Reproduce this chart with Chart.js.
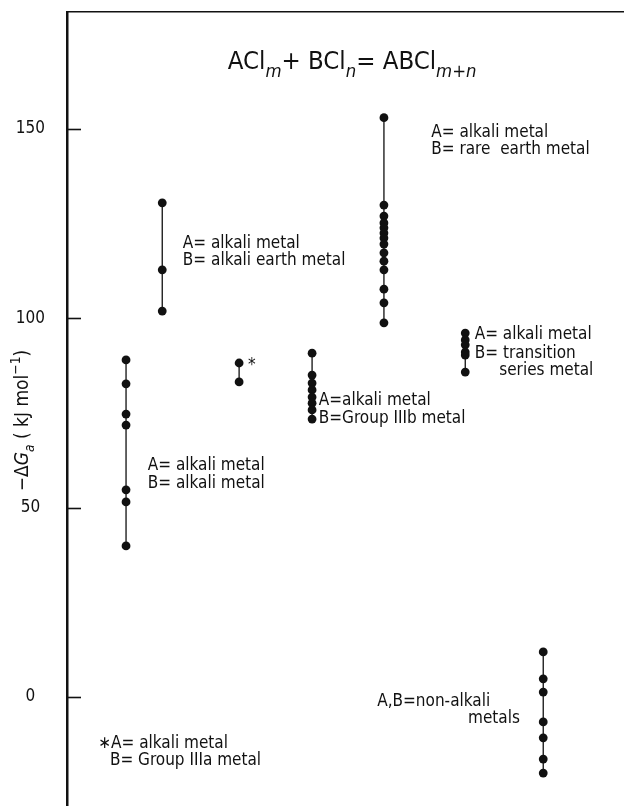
<!DOCTYPE html>
<html>
<head>
<meta charset="utf-8">
<title>ACl(m) + BCl(n) = ABCl(m+n)</title>
<script src="https://cdn.jsdelivr.net/npm/chart.js"></script>
<style>
  body { margin: 0; background: #fff; }
  .wrap { position: relative; width: 624px; height: 806px; }
</style>
</head>
<body>
<div class="wrap"><canvas id="dgChart"></canvas></div>
<script>
// one vertical column of points per kind of compound
const groups = ['A,B alkali', 'B alkali earth', 'B Group IIIa', 'B Group IIIb', 'B rare earth', 'B transition', 'A,B non-alkali'];
const groupPos = [10.6, 17.1, 30.9, 44.0, 56.9, 71.5, 85.5];

// -dGa in kJ/mol
const alkaliAlkali = [89.0, 82.7, 74.7, 71.8, 54.7, 51.5, 39.9];
const alkaliEarth  = [130.5, 112.8, 101.9];
const groupIIIa    = [88.2, 83.2];
const groupIIIb    = [90.8, 85.0, 82.9, 81.1, 79.2, 77.6, 75.8, 73.4];
const rareEarth    = [153.0, 129.9, 127.0, 125.2, 123.9, 122.5, 121.2, 119.6, 117.3, 115.1, 112.8, 107.7, 104.1, 98.8];
const transition   = [96.1, 94.3, 93.0, 91.1, 90.3, 85.8];
const nonAlkali    = [11.9, 4.8, 1.3, -6.6, -10.8, -16.4, -20.1];
const series = [alkaliAlkali, alkaliEarth, groupIIIa, groupIIIb, rareEarth, transition, nonAlkali];

const yTicks = [0, 50, 100, 150];

const FONT = "'DejaVu Sans Condensed', 'DejaVu Sans', sans-serif";
const INK = '#111';

// text notes, anchored in data units (x, y = left end of baseline)
const notes = [
  { x: 20.8, y: 118.6, t: 'A= alkali metal' },
  { x: 20.8, y: 114.1, t: 'B= alkali earth metal' },
  { x: 65.4, y: 147.9, t: 'A= alkali metal' },
  { x: 65.4, y: 143.4, t: 'B= rare  earth metal' },
  { x: 73.2, y: 94.5, t: 'A= alkali metal' },
  { x: 73.2, y: 89.5, t: 'B= transition' },
  { x: 77.6, y: 85.0, t: 'series metal' },
  { x: 45.2, y: 77.1, t: 'A=alkali metal' },
  { x: 45.2, y: 72.4, t: 'B=Group IIIb metal' },
  { x: 14.5, y: 59.9, t: 'A= alkali metal' },
  { x: 14.5, y: 55.2, t: 'B= alkali metal' },
  { x: 5.6, y: -13.5, t: '\u2217A= alkali metal' },
  { x: 7.7, y: -18.0, t: 'B= Group IIIa metal' },
  { x: 55.7, y: -2.4, t: 'A,B=non-alkali' },
  { x: 72.0, y: -6.9, t: 'metals' },
  { x: 32.5, y: 86.4, t: '*' }
];

const titleParts = [
  { t: 'ACl' }, { t: 'm', sub: 1, it: 1 }, { t: '+ BCl' }, { t: 'n', sub: 1, it: 1 },
  { t: '= ABCl' }, { t: 'm+n', sub: 1, it: 1 }
];
const yTitleParts = [
  { t: '\u2212\u0394' }, { t: 'G', it: 1 }, { t: 'a', sub: 1, it: 1 }, { t: ' ( kJ mol' }, { t: '\u22121', sup: 1 }, { t: ')' }
];

function richFont(p, size) {
  const s = (p.sub || p.sup) ? size * 0.72 : size;
  return (p.it ? 'italic ' : '') + s.toFixed(1) + 'px ' + FONT;
}
function richWidth(ctx, parts, size) {
  let w = 0;
  parts.forEach(p => { ctx.font = richFont(p, size); w += ctx.measureText(p.t).width; });
  return w;
}
function drawRich(ctx, x, y, parts, size) {
  parts.forEach(p => {
    ctx.font = richFont(p, size);
    const dy = p.sub ? size * 0.3 : p.sup ? -size * 0.42 : 0;
    ctx.fillText(p.t, x, y + dy);
    x += ctx.measureText(p.t).width;
  });
}

const decor = {
  id: 'decor',
  beforeDraw(chart) {
    const c = chart.ctx;
    c.save();
    c.fillStyle = '#fff';
    c.fillRect(0, 0, chart.width, chart.height);
    c.restore();
  },
  afterDraw(chart) {
    const c = chart.ctx;
    const { x, y } = chart.scales;
    c.save();
    c.fillStyle = INK;
    c.strokeStyle = INK;
    c.textBaseline = 'alphabetic';

    // inward tick marks
    c.lineWidth = 1.6;
    y.ticks.forEach(tk => {
      const py = Math.round(y.getPixelForValue(tk.value)) + 0.5;
      c.beginPath();
      c.moveTo(chart.chartArea.left, py);
      c.lineTo(chart.chartArea.left + 14, py);
      c.stroke();
    });

    // title
    const tSize = 25.5;
    const tw = richWidth(c, titleParts, tSize);
    drawRich(c, x.getPixelForValue(51.2) - tw / 2, y.getPixelForValue(165.8), titleParts, tSize);

    // notes
    notes.forEach(n => {
      c.font = '17px ' + FONT;
      c.fillText(n.t, x.getPixelForValue(n.x), y.getPixelForValue(n.y));
    });

    // y axis title, rotated
    const ys = 19;
    const yw = richWidth(c, yTitleParts, ys);
    c.translate(22, y.getPixelForValue(73));
    c.rotate(-Math.PI / 2);
    drawRich(c, -yw / 2, 6, yTitleParts, ys);
    c.restore();
  }
};

new Chart(document.getElementById('dgChart'), {
  type: 'scatter',
  data: {
    datasets: series.map((vals, i) => ({
      label: groups[i],
      data: vals.map(v => ({ x: groupPos[i], y: v })),
      showLine: true,
      borderColor: INK,
      borderWidth: 1.3,
      pointRadius: 4.4,
      pointBackgroundColor: INK,
      pointBorderWidth: 0
    }))
  },
  options: {
    responsive: true,
    maintainAspectRatio: false,
    animation: false,
    layout: { autoPadding: false, padding: { top: 12, left: 0, right: 0, bottom: 0 } },
    plugins: { legend: { display: false }, tooltip: { enabled: false } },
    scales: {
      x: {
        type: 'linear',
        position: 'top',
        min: 0,
        max: 100,
        ticks: { display: false },
        grid: { display: false, drawTicks: false },
        border: { display: true, color: INK, width: 1.5 },
        afterFit(s) { s.height = 0; s.paddingLeft = 0; s.paddingRight = 0; }
      },
      y: {
        min: -28.8,
        max: 180.9,
        afterBuildTicks(s) { s.ticks = yTicks.map(v => ({ value: v })); },
        afterFit(s) { s.width = 67; s.paddingTop = 0; s.paddingBottom = 0; },
        ticks: { crossAlign: 'center', padding: 22, color: INK, font: { family: FONT, size: 17 } },
        grid: { display: false, drawTicks: false },
        border: { display: true, color: INK, width: 2.5 }
      }
    }
  },
  plugins: [decor]
});
</script>
</body>
</html>
